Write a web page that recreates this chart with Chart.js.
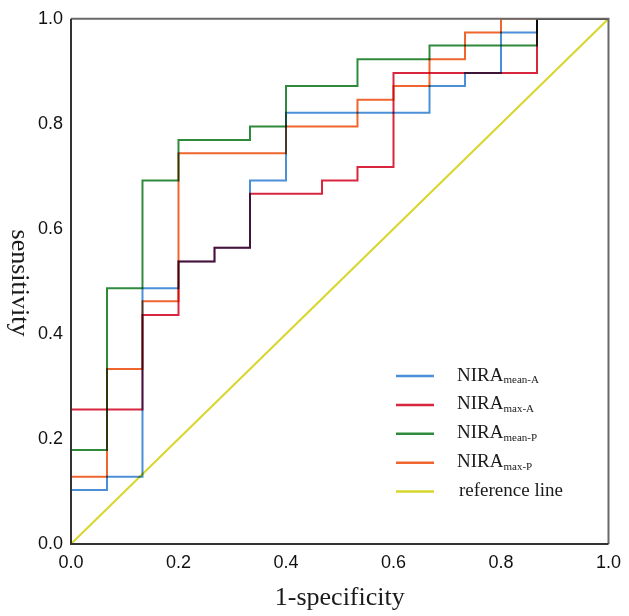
<!DOCTYPE html>
<html lang="en">
<head>
  <meta charset="UTF-8">
  <title>ROC curves</title>
  <script src="https://cdn.jsdelivr.net/npm/chart.js"></script>
  <style>
    body { margin: 0; background: #fff; }
    #wrap { width: 629px; height: 616px; position: relative; }
  </style>
</head>
<body>
  <div id="wrap"><canvas id="roc"></canvas></div>

  <script>
    // each curve: x break points (1-specificity) and the sensitivity level held between them
    const meanA_x = [0, 0.067, 0.133, 0.2, 0.267, 0.333, 0.4, 0.667, 0.733, 0.8, 0.867, 1];
    const meanA_y = [0.103, 0.128, 0.487, 0.538, 0.564, 0.692, 0.821, 0.872, 0.897, 0.974, 1];

    const maxA_x = [0, 0.133, 0.2, 0.267, 0.333, 0.467, 0.533, 0.6, 0.867, 1];
    const maxA_y = [0.256, 0.436, 0.538, 0.564, 0.667, 0.692, 0.718, 0.897, 1];

    const meanP_x = [0, 0.067, 0.133, 0.2, 0.333, 0.4, 0.533, 0.667, 0.867, 1];
    const meanP_y = [0.179, 0.487, 0.692, 0.769, 0.795, 0.872, 0.923, 0.949, 1];

    const maxP_x = [0, 0.067, 0.133, 0.2, 0.4, 0.533, 0.6, 0.667, 0.733, 0.8, 1];
    const maxP_y = [0.128, 0.333, 0.462, 0.744, 0.795, 0.846, 0.872, 0.923, 0.974, 1];

    const refLine_x = [0, 1];
    const refLine_y = [0, 1];

    const tickValues = [0, 0.2, 0.4, 0.6, 0.8, 1];

    // turn break points + levels into the corners of a step curve starting at (0,0)
    function steps(xs, ys) {
      const pts = [{ x: xs[0], y: 0 }];
      ys.forEach((y, k) => {
        pts.push({ x: xs[k], y: y });
        pts.push({ x: xs[k + 1], y: y });
      });
      return pts;
    }

    const legendItems = [
      { main: 'NIRA', sub: 'mean-A', color: '#4a8fd8' },
      { main: 'NIRA', sub: 'max-A', color: '#d9263f' },
      { main: 'NIRA', sub: 'mean-P', color: '#2f8a3c' },
      { main: 'NIRA', sub: 'max-P', color: '#f0652e' },
      { main: 'reference line', sub: '', color: '#d8d62c' }
    ];

    const line = (pts, color) => ({
      data: pts,
      borderColor: color,
      borderWidth: 2,
      pointRadius: 0,
      fill: false,
      tension: 0
    });

    const rocPlugin = {
      id: 'rocExtras',
      beforeDatasetsDraw(chart) {
        chart.ctx.save();
        chart.ctx.globalCompositeOperation = 'multiply';
      },
      afterDatasetsDraw(chart) {
        const ctx = chart.ctx;
        ctx.restore();
        const a = chart.chartArea;

        // frame
        ctx.save();
        ctx.lineWidth = 2;
        ctx.strokeStyle = '#6a6a6a';
        ctx.beginPath();
        ctx.moveTo(a.left, a.top);
        ctx.lineTo(a.right, a.top);
        ctx.lineTo(a.right, a.bottom);
        ctx.stroke();
        ctx.strokeStyle = '#333';
        ctx.beginPath();
        ctx.moveTo(a.left, a.top);
        ctx.lineTo(a.left, a.bottom);
        ctx.lineTo(a.right, a.bottom);
        ctx.stroke();

        // legend
        legendItems.forEach((it, i) => {
          const y = 376 + i * 28.9;
          ctx.strokeStyle = it.color;
          ctx.lineWidth = 2.5;
          ctx.beginPath();
          ctx.moveTo(396, y);
          ctx.lineTo(434, y);
          ctx.stroke();
          ctx.fillStyle = '#1a1a1a';
          ctx.textAlign = 'left';
          ctx.textBaseline = 'alphabetic';
          ctx.font = '19px "Liberation Serif"';
          const x0 = it.sub ? 457 : 459;
          ctx.fillText(it.main, x0, y + 4.5);
          if (it.sub) {
            const w = ctx.measureText(it.main).width;
            ctx.font = '11px "Liberation Serif"';
            ctx.fillText(it.sub, x0 + w, y + 7);
          }
        });

        // y title, reads top to bottom
        ctx.translate(19, 283);
        ctx.rotate(Math.PI / 2);
        ctx.font = '26px "Liberation Serif"';
        ctx.fillStyle = '#1a1a1a';
        ctx.textAlign = 'center';
        ctx.textBaseline = 'middle';
        ctx.fillText('sensitivity', 0, 0);
        ctx.restore();
      }
    };

    new Chart(document.getElementById('roc'), {
      type: 'line',
      data: {
        datasets: [
          line(refLine_x.map((x, i) => ({ x: x, y: refLine_y[i] })), legendItems[4].color),
          line(steps(meanA_x, meanA_y), legendItems[0].color),
          line(steps(maxA_x, maxA_y), legendItems[1].color),
          line(steps(meanP_x, meanP_y), legendItems[2].color),
          line(steps(maxP_x, maxP_y), legendItems[3].color)
        ]
      },
      options: {
        responsive: true,
        maintainAspectRatio: false,
        animation: false,
        layout: { padding: { top: 12, right: 19, left: 0, bottom: 0 } },
        plugins: { legend: { display: false }, tooltip: { enabled: false } },
        scales: {
          x: {
            type: 'linear',
            min: 0,
            max: 1,
            afterFit: s => { s.height = 72; },
            afterBuildTicks: s => { s.ticks = tickValues.map(v => ({ value: v })); },
            grid: { display: false, drawTicks: false },
            border: { display: false },
            ticks: {
              padding: 8,
              color: '#111',
              font: { family: '"Liberation Sans"', size: 18 },
              callback: v => v.toFixed(1),
              maxRotation: 0
            },
            title: {
              display: true,
              text: '1-specificity',
              color: '#1a1a1a',
              font: { family: '"Liberation Serif"', size: 26 },
              padding: { top: 0, bottom: 2 }
            }
          },
          y: {
            type: 'linear',
            min: 0,
            max: 1,
            afterFit: s => { s.width = 71; },
            afterBuildTicks: s => { s.ticks = tickValues.map(v => ({ value: v })); },
            grid: { display: false, drawTicks: false },
            border: { display: false },
            ticks: {
              padding: 8,
              color: '#111',
              font: { family: '"Liberation Sans"', size: 18 },
              callback: v => v.toFixed(1)
            }
          }
        }
      },
      plugins: [rocPlugin]
    });
  </script>
</body>
</html>
